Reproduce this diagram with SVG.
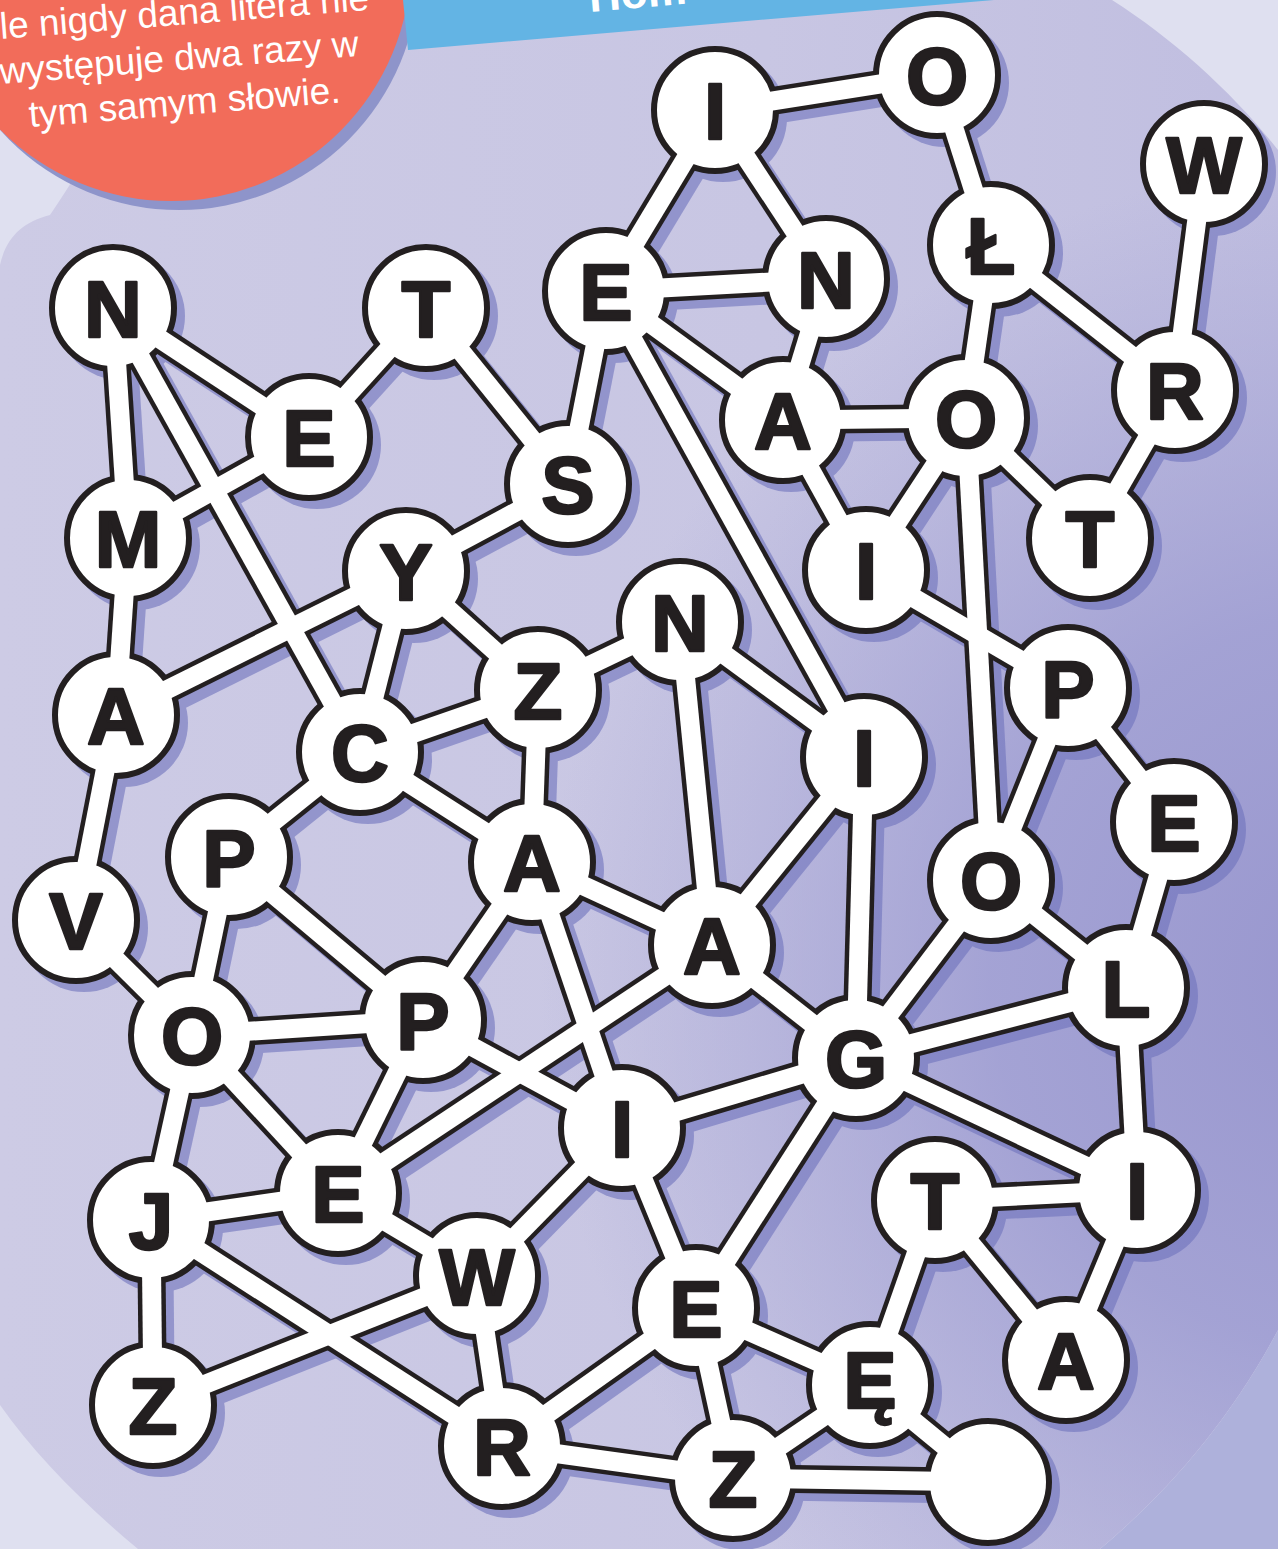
<svg xmlns="http://www.w3.org/2000/svg" xmlns:xlink="http://www.w3.org/1999/xlink" width="1278" height="1549" viewBox="0 0 1278 1549">
<defs>
<style>
.nd { fill: #ffffff; stroke: #231f20; stroke-width: 6px; }
.sh { fill: #6f73bd; }
.lt { font-family: "Liberation Sans", Arial, sans-serif; font-weight: 700; font-size: 80px; fill: #231f20; stroke: #231f20; stroke-width: 2.5px; stroke-linejoin: round; text-anchor: middle; }
.note { font-family: "Liberation Sans", Arial, sans-serif; font-size: 37px; fill: #ffffff; text-anchor: middle; }
.ban { font-family: "Liberation Sans", Arial, sans-serif; font-weight: 700; font-size: 44px; fill: #ffffff; }
</style>
<linearGradient id="blobGrad" gradientUnits="userSpaceOnUse" x1="0" y1="0" x2="1278" y2="0">
<stop offset="0" stop-color="#cdcbe5"/>
<stop offset="0.6" stop-color="#c8c6e3"/>
<stop offset="1" stop-color="#c0bee0"/>
</linearGradient>
<radialGradient id="darkGrad" gradientUnits="userSpaceOnUse" cx="1360" cy="980" r="820">
<stop offset="0" stop-color="#9896ce" stop-opacity="1"/>
<stop offset="0.45" stop-color="#9e9dd2" stop-opacity="0.85"/>
<stop offset="1" stop-color="#a3a2d4" stop-opacity="0"/>
</radialGradient>
<mask id="coreMask" maskUnits="userSpaceOnUse" x="0" y="0" width="1278" height="1549">
<rect x="0" y="0" width="1278" height="1549" fill="#fff"/>
<g fill="#000">
<circle cx="715" cy="110" r="52"/><circle cx="937" cy="75" r="52"/><circle cx="1204" cy="164" r="52"/><circle cx="991" cy="245" r="52"/>
<circle cx="606" cy="291" r="52"/><circle cx="826" cy="279" r="52"/><circle cx="113" cy="308" r="52"/><circle cx="426" cy="308" r="52"/>
<circle cx="309" cy="437" r="52"/><circle cx="783" cy="420" r="52"/><circle cx="966" cy="418" r="52"/><circle cx="1175" cy="390" r="52"/>
<circle cx="568" cy="484" r="52"/><circle cx="128" cy="538" r="52"/><circle cx="406" cy="571" r="52"/><circle cx="866" cy="570" r="52"/>
<circle cx="1090" cy="538" r="52"/><circle cx="680" cy="622" r="52"/><circle cx="538" cy="690" r="52"/><circle cx="116" cy="715" r="52"/>
<circle cx="360" cy="752" r="52"/><circle cx="1068" cy="688" r="52"/><circle cx="864" cy="757" r="52"/><circle cx="1174" cy="822" r="52"/>
<circle cx="229" cy="857" r="52"/><circle cx="532" cy="862" r="52"/><circle cx="991" cy="880" r="52"/><circle cx="76" cy="920" r="52"/>
<circle cx="712" cy="945" r="52"/><circle cx="1126" cy="988" r="52"/><circle cx="192" cy="1035" r="52"/><circle cx="423" cy="1020" r="52"/>
<circle cx="856" cy="1058" r="52"/><circle cx="622" cy="1128" r="52"/><circle cx="935" cy="1200" r="52"/><circle cx="1137" cy="1190" r="52"/>
<circle cx="151" cy="1220" r="52"/><circle cx="338" cy="1193" r="52"/><circle cx="477" cy="1276" r="52"/><circle cx="696" cy="1308" r="52"/>
<circle cx="1066" cy="1360" r="52"/><circle cx="870" cy="1385" r="52"/><circle cx="153" cy="1405" r="52"/><circle cx="502" cy="1446" r="52"/>
<circle cx="733" cy="1478" r="52"/><circle cx="988" cy="1482" r="52"/>
</g>
</mask>
</defs>

<!-- background -->
<g id="background">
<rect x="0" y="0" width="1278" height="1549" fill="#dfe0f0"/>
<path d="M1278,1330 C1230,1420 1170,1490 1100,1549 L1278,1549 Z" fill="#aeb1db"/>
<path d="M0,265 C6,238 22,222 50,215 C60,200 70,185 80,168 L80,0 L1112,0 C1175,40 1235,95 1278,150 L1278,1330 C1230,1420 1170,1490 1100,1549 L138,1549 C85,1505 35,1455 0,1405 Z" fill="url(#blobGrad)"/>
<path d="M0,265 C6,238 22,222 50,215 C60,200 70,185 80,168 L80,0 L1112,0 C1175,40 1235,95 1278,150 L1278,1330 C1230,1420 1170,1490 1100,1549 L138,1549 C85,1505 35,1455 0,1405 Z" fill="url(#darkGrad)"/>
</g>

<!-- header pieces -->
<g id="note">
<circle cx="179" cy="-30" r="240" fill="#8e94ca"/>
<circle cx="171" cy="-39" r="240" fill="#f26c5a"/>
<g transform="rotate(-4.5 180 70)">
<text class="note" x="374" y="25" style="text-anchor:end">le nigdy dana litera nie</text>
<text class="note" x="180" y="70">występuje dwa razy w</text>
<text class="note" x="182" y="115">tym samym słowie.</text>
</g>
</g>
<g id="banner">
<polygon points="403,0 408,50 994,0" fill="#63b4e4"/>
<text class="ban" x="590" y="12" transform="rotate(-5 590 12)">Hom</text>
</g>

<!-- shadows -->
<g id="shadows" opacity="0.6" transform="translate(8,8)">
<use href="#connectors" stroke="#6f73bd" stroke-width="28"/>
<g class="sh">
<circle cx="715" cy="110" r="64"/><circle cx="937" cy="75" r="64"/><circle cx="1204" cy="164" r="64"/><circle cx="991" cy="245" r="64"/>
<circle cx="606" cy="291" r="64"/><circle cx="826" cy="279" r="64"/><circle cx="113" cy="308" r="64"/><circle cx="426" cy="308" r="64"/>
<circle cx="309" cy="437" r="64"/><circle cx="783" cy="420" r="64"/><circle cx="966" cy="418" r="64"/><circle cx="1175" cy="390" r="64"/>
<circle cx="568" cy="484" r="64"/><circle cx="128" cy="538" r="64"/><circle cx="406" cy="571" r="64"/><circle cx="866" cy="570" r="64"/>
<circle cx="1090" cy="538" r="64"/><circle cx="680" cy="622" r="64"/><circle cx="538" cy="690" r="64"/><circle cx="116" cy="715" r="64"/>
<circle cx="360" cy="752" r="64"/><circle cx="1068" cy="688" r="64"/><circle cx="864" cy="757" r="64"/><circle cx="1174" cy="822" r="64"/>
<circle cx="229" cy="857" r="64"/><circle cx="532" cy="862" r="64"/><circle cx="991" cy="880" r="64"/><circle cx="76" cy="920" r="64"/>
<circle cx="712" cy="945" r="64"/><circle cx="1126" cy="988" r="64"/><circle cx="192" cy="1035" r="64"/><circle cx="423" cy="1020" r="64"/>
<circle cx="856" cy="1058" r="64"/><circle cx="622" cy="1128" r="64"/><circle cx="935" cy="1200" r="64"/><circle cx="1137" cy="1190" r="64"/>
<circle cx="151" cy="1220" r="64"/><circle cx="338" cy="1193" r="64"/><circle cx="477" cy="1276" r="64"/><circle cx="696" cy="1308" r="64"/>
<circle cx="1066" cy="1360" r="64"/><circle cx="870" cy="1385" r="64"/><circle cx="153" cy="1405" r="64"/><circle cx="502" cy="1446" r="64"/>
<circle cx="733" cy="1478" r="64"/><circle cx="988" cy="1482" r="64"/>
</g>
</g>

<!-- connector outlines -->
<g stroke="#231f20" stroke-width="28" fill="none">
<g id="connectors">
<line x1="715" y1="110" x2="937" y2="75"/>
<line x1="715" y1="110" x2="606" y2="291"/>
<line x1="715" y1="110" x2="826" y2="279"/>
<line x1="937" y1="75" x2="991" y2="245"/>
<line x1="1204" y1="164" x2="1175" y2="390"/>
<line x1="991" y1="245" x2="1175" y2="390"/>
<line x1="991" y1="245" x2="966" y2="418"/>
<line x1="606" y1="291" x2="826" y2="279"/>
<line x1="606" y1="291" x2="783" y2="420"/>
<line x1="606" y1="291" x2="568" y2="484"/>
<line x1="606" y1="291" x2="864" y2="757"/>
<line x1="826" y1="279" x2="783" y2="420"/>
<line x1="113" y1="308" x2="309" y2="437"/>
<line x1="113" y1="308" x2="128" y2="538"/>
<line x1="113" y1="308" x2="360" y2="752"/>
<line x1="426" y1="308" x2="309" y2="437"/>
<line x1="426" y1="308" x2="568" y2="484"/>
<line x1="309" y1="437" x2="128" y2="538"/>
<line x1="783" y1="420" x2="966" y2="418"/>
<line x1="783" y1="420" x2="866" y2="570"/>
<line x1="966" y1="418" x2="866" y2="570"/>
<line x1="966" y1="418" x2="1090" y2="538"/>
<line x1="966" y1="418" x2="991" y2="880"/>
<line x1="1175" y1="390" x2="1090" y2="538"/>
<line x1="568" y1="484" x2="406" y2="571"/>
<line x1="128" y1="538" x2="116" y2="715"/>
<line x1="406" y1="571" x2="116" y2="715"/>
<line x1="406" y1="571" x2="360" y2="752"/>
<line x1="406" y1="571" x2="538" y2="690"/>
<line x1="866" y1="570" x2="1068" y2="688"/>
<line x1="680" y1="622" x2="538" y2="690"/>
<line x1="680" y1="622" x2="864" y2="757"/>
<line x1="680" y1="622" x2="712" y2="945"/>
<line x1="538" y1="690" x2="360" y2="752"/>
<line x1="538" y1="690" x2="532" y2="862"/>
<line x1="116" y1="715" x2="76" y2="920"/>
<line x1="360" y1="752" x2="229" y2="857"/>
<line x1="360" y1="752" x2="532" y2="862"/>
<line x1="1068" y1="688" x2="1174" y2="822"/>
<line x1="1068" y1="688" x2="991" y2="880"/>
<line x1="864" y1="757" x2="712" y2="945"/>
<line x1="864" y1="757" x2="856" y2="1058"/>
<line x1="1174" y1="822" x2="1126" y2="988"/>
<line x1="229" y1="857" x2="192" y2="1035"/>
<line x1="229" y1="857" x2="423" y2="1020"/>
<line x1="532" y1="862" x2="712" y2="945"/>
<line x1="532" y1="862" x2="423" y2="1020"/>
<line x1="532" y1="862" x2="622" y2="1128"/>
<line x1="991" y1="880" x2="1126" y2="988"/>
<line x1="991" y1="880" x2="856" y2="1058"/>
<line x1="76" y1="920" x2="192" y2="1035"/>
<line x1="712" y1="945" x2="856" y2="1058"/>
<line x1="712" y1="945" x2="338" y2="1193"/>
<line x1="1126" y1="988" x2="856" y2="1058"/>
<line x1="1126" y1="988" x2="1137" y2="1190"/>
<line x1="192" y1="1035" x2="423" y2="1020"/>
<line x1="192" y1="1035" x2="338" y2="1193"/>
<line x1="192" y1="1035" x2="151" y2="1220"/>
<line x1="423" y1="1020" x2="338" y2="1193"/>
<line x1="423" y1="1020" x2="622" y2="1128"/>
<line x1="856" y1="1058" x2="622" y2="1128"/>
<line x1="856" y1="1058" x2="1137" y2="1190"/>
<line x1="856" y1="1058" x2="696" y2="1308"/>
<line x1="622" y1="1128" x2="477" y2="1276"/>
<line x1="622" y1="1128" x2="696" y2="1308"/>
<line x1="935" y1="1200" x2="1137" y2="1190"/>
<line x1="935" y1="1200" x2="1066" y2="1360"/>
<line x1="935" y1="1200" x2="870" y2="1385"/>
<line x1="1137" y1="1190" x2="1066" y2="1360"/>
<line x1="151" y1="1220" x2="338" y2="1193"/>
<line x1="151" y1="1220" x2="153" y2="1405"/>
<line x1="151" y1="1220" x2="502" y2="1446"/>
<line x1="338" y1="1193" x2="477" y2="1276"/>
<line x1="477" y1="1276" x2="153" y2="1405"/>
<line x1="477" y1="1276" x2="502" y2="1446"/>
<line x1="696" y1="1308" x2="502" y2="1446"/>
<line x1="696" y1="1308" x2="870" y2="1385"/>
<line x1="696" y1="1308" x2="733" y2="1478"/>
<line x1="870" y1="1385" x2="733" y2="1478"/>
<line x1="870" y1="1385" x2="988" y2="1482"/>
<line x1="502" y1="1446" x2="733" y2="1478"/>
<line x1="733" y1="1478" x2="988" y2="1482"/>
</g>
</g>

<!-- nodes -->
<g id="nodes">
<g id="n1"><circle class="nd" cx="715" cy="110" r="61"/><text class="lt" x="715" y="139">I</text></g>
<g id="n2"><circle class="nd" cx="937" cy="75" r="61"/><text class="lt" x="937" y="104">O</text></g>
<g id="n3"><circle class="nd" cx="1204" cy="164" r="61"/><text class="lt" x="1204" y="193">W</text></g>
<g id="n4"><circle class="nd" cx="991" cy="245" r="61"/><text class="lt" x="991" y="274">Ł</text></g>
<g id="n5"><circle class="nd" cx="606" cy="291" r="61"/><text class="lt" x="606" y="320">E</text></g>
<g id="n6"><circle class="nd" cx="826" cy="279" r="61"/><text class="lt" x="826" y="308">N</text></g>
<g id="n7"><circle class="nd" cx="113" cy="308" r="61"/><text class="lt" x="113" y="337">N</text></g>
<g id="n8"><circle class="nd" cx="426" cy="308" r="61"/><text class="lt" x="426" y="337">T</text></g>
<g id="n9"><circle class="nd" cx="309" cy="437" r="61"/><text class="lt" x="309" y="466">E</text></g>
<g id="n10"><circle class="nd" cx="783" cy="420" r="61"/><text class="lt" x="783" y="449">A</text></g>
<g id="n11"><circle class="nd" cx="966" cy="418" r="61"/><text class="lt" x="966" y="447">O</text></g>
<g id="n12"><circle class="nd" cx="1175" cy="390" r="61"/><text class="lt" x="1175" y="419">R</text></g>
<g id="n13"><circle class="nd" cx="568" cy="484" r="61"/><text class="lt" x="568" y="513">S</text></g>
<g id="n14"><circle class="nd" cx="128" cy="538" r="61"/><text class="lt" x="128" y="567">M</text></g>
<g id="n15"><circle class="nd" cx="406" cy="571" r="61"/><text class="lt" x="406" y="600">Y</text></g>
<g id="n16"><circle class="nd" cx="866" cy="570" r="61"/><text class="lt" x="866" y="599">I</text></g>
<g id="n17"><circle class="nd" cx="1090" cy="538" r="61"/><text class="lt" x="1090" y="567">T</text></g>
<g id="n18"><circle class="nd" cx="680" cy="622" r="61"/><text class="lt" x="680" y="651">N</text></g>
<g id="n19"><circle class="nd" cx="538" cy="690" r="61"/><text class="lt" x="538" y="719">Z</text></g>
<g id="n20"><circle class="nd" cx="116" cy="715" r="61"/><text class="lt" x="116" y="744">A</text></g>
<g id="n21"><circle class="nd" cx="360" cy="752" r="61"/><text class="lt" x="360" y="781">C</text></g>
<g id="n22"><circle class="nd" cx="1068" cy="688" r="61"/><text class="lt" x="1068" y="717">P</text></g>
<g id="n23"><circle class="nd" cx="864" cy="757" r="61"/><text class="lt" x="864" y="786">I</text></g>
<g id="n24"><circle class="nd" cx="1174" cy="822" r="61"/><text class="lt" x="1174" y="851">E</text></g>
<g id="n25"><circle class="nd" cx="229" cy="857" r="61"/><text class="lt" x="229" y="886">P</text></g>
<g id="n26"><circle class="nd" cx="532" cy="862" r="61"/><text class="lt" x="532" y="891">A</text></g>
<g id="n27"><circle class="nd" cx="991" cy="880" r="61"/><text class="lt" x="991" y="909">O</text></g>
<g id="n28"><circle class="nd" cx="76" cy="920" r="61"/><text class="lt" x="76" y="949">V</text></g>
<g id="n29"><circle class="nd" cx="712" cy="945" r="61"/><text class="lt" x="712" y="974">A</text></g>
<g id="n30"><circle class="nd" cx="1126" cy="988" r="61"/><text class="lt" x="1126" y="1017">L</text></g>
<g id="n31"><circle class="nd" cx="192" cy="1035" r="61"/><text class="lt" x="192" y="1064">O</text></g>
<g id="n32"><circle class="nd" cx="423" cy="1020" r="61"/><text class="lt" x="423" y="1049">P</text></g>
<g id="n33"><circle class="nd" cx="856" cy="1058" r="61"/><text class="lt" x="856" y="1087">G</text></g>
<g id="n34"><circle class="nd" cx="622" cy="1128" r="61"/><text class="lt" x="622" y="1157">I</text></g>
<g id="n35"><circle class="nd" cx="935" cy="1200" r="61"/><text class="lt" x="935" y="1229">T</text></g>
<g id="n36"><circle class="nd" cx="1137" cy="1190" r="61"/><text class="lt" x="1137" y="1219">I</text></g>
<g id="n37"><circle class="nd" cx="151" cy="1220" r="61"/><text class="lt" x="151" y="1249">J</text></g>
<g id="n38"><circle class="nd" cx="338" cy="1193" r="61"/><text class="lt" x="338" y="1222">E</text></g>
<g id="n39"><circle class="nd" cx="477" cy="1276" r="61"/><text class="lt" x="477" y="1305">W</text></g>
<g id="n40"><circle class="nd" cx="696" cy="1308" r="61"/><text class="lt" x="696" y="1337">E</text></g>
<g id="n41"><circle class="nd" cx="1066" cy="1360" r="61"/><text class="lt" x="1066" y="1389">A</text></g>
<g id="n42"><circle class="nd" cx="870" cy="1385" r="61"/><text class="lt" x="870" y="1408">Ę</text></g>
<g id="n43"><circle class="nd" cx="153" cy="1405" r="61"/><text class="lt" x="153" y="1434">Z</text></g>
<g id="n44"><circle class="nd" cx="502" cy="1446" r="61"/><text class="lt" x="502" y="1475">R</text></g>
<g id="n45"><circle class="nd" cx="733" cy="1478" r="61"/><text class="lt" x="733" y="1507">Z</text></g>
<g id="n46"><circle class="nd" cx="988" cy="1482" r="61"/></g>
</g>

<!-- connector white cores, drawn over the node rings so joins merge -->
<use id="connector-cores" href="#connectors" stroke="#ffffff" stroke-width="19" mask="url(#coreMask)"/>
</svg>
